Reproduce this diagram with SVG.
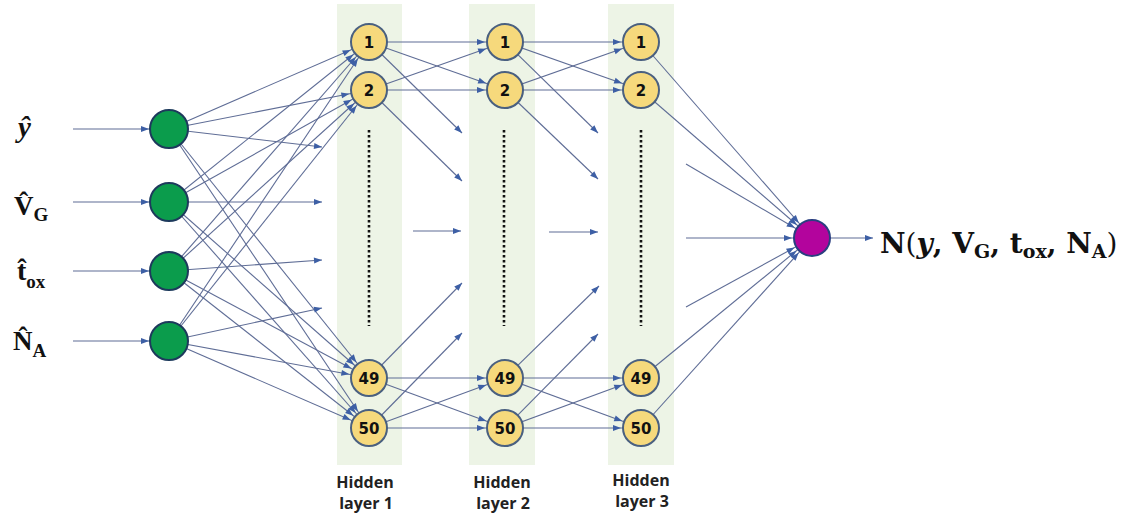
<svg xmlns="http://www.w3.org/2000/svg" width="1129" height="520" viewBox="0 0 1129 520">
  <style>
    .band { fill: #edf4e6; }
    .ln { stroke: #5f6d96; stroke-width: 1.1; fill: none; }
    .node-in { fill: #0b9c4c; stroke: #1d3a5c; stroke-width: 2; }
    .node-h { fill: #f6d97c; stroke: #4a6080; stroke-width: 2; }
    .node-out { fill: #b3049d; stroke: #2a3f80; stroke-width: 2; }
    .num { font-family: "DejaVu Sans", sans-serif; font-weight: bold; font-size: 15px; fill: #111; text-anchor: middle; }
    .dots { stroke: #111; stroke-width: 2.6; stroke-dasharray: 2.6 2.4; fill: none; }
    .math { font-family: "Liberation Serif", serif; font-weight: bold; fill: #111; }
    .math-out { font-family: "DejaVu Serif", serif; font-weight: bold; fill: #111; }
    .cap { font-family: "Open Sans", sans-serif; font-weight: 700; font-size: 16px; fill: #222; text-anchor: middle; }
  </style>
  <defs>
    <!-- arrowhead stopping at a node's rim (line drawn to node centre) -->
    <marker id="ah" markerUnits="userSpaceOnUse" markerWidth="8" markerHeight="6" viewBox="0 0 8 6" refX="28" refY="3" orient="auto" overflow="visible">
      <path d="M0,0 L8,3 L0,6 z" fill="#3d5fa5"/>
    </marker>
    <!-- arrowhead at the line end -->
    <marker id="at" markerUnits="userSpaceOnUse" markerWidth="8" markerHeight="6" viewBox="0 0 8 6" refX="8" refY="3" orient="auto" overflow="visible">
      <path d="M0,0 L8,3 L0,6 z" fill="#3d5fa5"/>
    </marker>
  </defs>

  <!-- layer bands -->
  <g id="bands">
    <rect class="band" x="337" y="4" width="65" height="461"/>
    <rect class="band" x="469" y="4" width="66" height="461"/>
    <rect class="band" x="608" y="4" width="66" height="461"/>
  </g>

  <g id="connectors">
    <!-- inputs -->
    <line class="ln" x1="73" y1="129" x2="169" y2="129" marker-end="url(#ah)"/>
    <line class="ln" x1="73" y1="202" x2="169" y2="202" marker-end="url(#ah)"/>
    <line class="ln" x1="73" y1="271" x2="169" y2="271" marker-end="url(#ah)"/>
    <line class="ln" x1="73" y1="341" x2="169" y2="341" marker-end="url(#ah)"/>

    <!-- input layer to hidden layer 1 -->
    <line class="ln" x1="169" y1="129" x2="369" y2="42" marker-end="url(#ah)"/>
    <line class="ln" x1="169" y1="129" x2="369" y2="90" marker-end="url(#ah)"/>
    <line class="ln" x1="169" y1="129" x2="369" y2="378" marker-end="url(#ah)"/>
    <line class="ln" x1="169" y1="129" x2="369" y2="428" marker-end="url(#ah)"/>
    <line class="ln" x1="169" y1="202" x2="369" y2="42" marker-end="url(#ah)"/>
    <line class="ln" x1="169" y1="202" x2="369" y2="90" marker-end="url(#ah)"/>
    <line class="ln" x1="169" y1="202" x2="369" y2="378" marker-end="url(#ah)"/>
    <line class="ln" x1="169" y1="202" x2="369" y2="428" marker-end="url(#ah)"/>
    <line class="ln" x1="169" y1="271" x2="369" y2="42" marker-end="url(#ah)"/>
    <line class="ln" x1="169" y1="271" x2="369" y2="90" marker-end="url(#ah)"/>
    <line class="ln" x1="169" y1="271" x2="369" y2="378" marker-end="url(#ah)"/>
    <line class="ln" x1="169" y1="271" x2="369" y2="428" marker-end="url(#ah)"/>
    <line class="ln" x1="169" y1="341" x2="369" y2="42" marker-end="url(#ah)"/>
    <line class="ln" x1="169" y1="341" x2="369" y2="90" marker-end="url(#ah)"/>
    <line class="ln" x1="169" y1="341" x2="369" y2="378" marker-end="url(#ah)"/>
    <line class="ln" x1="169" y1="341" x2="369" y2="428" marker-end="url(#ah)"/>
    <line class="ln" x1="169" y1="129" x2="322" y2="147" marker-end="url(#at)"/>
    <line class="ln" x1="169" y1="202" x2="322" y2="202" marker-end="url(#at)"/>
    <line class="ln" x1="169" y1="271" x2="322" y2="260" marker-end="url(#at)"/>
    <line class="ln" x1="169" y1="341" x2="322" y2="308" marker-end="url(#at)"/>

    <!-- hidden layer 1 to hidden layer 2 -->
    <line class="ln" x1="369" y1="42" x2="505" y2="42" marker-end="url(#ah)"/>
    <line class="ln" x1="369" y1="42" x2="505" y2="90" marker-end="url(#ah)"/>
    <line class="ln" x1="369" y1="90" x2="505" y2="42" marker-end="url(#ah)"/>
    <line class="ln" x1="369" y1="90" x2="505" y2="90" marker-end="url(#ah)"/>
    <line class="ln" x1="369" y1="378" x2="505" y2="378" marker-end="url(#ah)"/>
    <line class="ln" x1="369" y1="378" x2="505" y2="428" marker-end="url(#ah)"/>
    <line class="ln" x1="369" y1="428" x2="505" y2="378" marker-end="url(#ah)"/>
    <line class="ln" x1="369" y1="428" x2="505" y2="428" marker-end="url(#ah)"/>
    <line class="ln" x1="369" y1="42" x2="462" y2="133" marker-end="url(#at)"/>
    <line class="ln" x1="369" y1="90" x2="462" y2="181" marker-end="url(#at)"/>
    <line class="ln" x1="413" y1="231" x2="461" y2="231" marker-end="url(#at)"/>
    <line class="ln" x1="369" y1="378" x2="462" y2="283" marker-end="url(#at)"/>
    <line class="ln" x1="369" y1="428" x2="462" y2="333" marker-end="url(#at)"/>

    <!-- hidden layer 2 to hidden layer 3 -->
    <line class="ln" x1="505" y1="42" x2="641" y2="42" marker-end="url(#ah)"/>
    <line class="ln" x1="505" y1="42" x2="641" y2="90" marker-end="url(#ah)"/>
    <line class="ln" x1="505" y1="90" x2="641" y2="42" marker-end="url(#ah)"/>
    <line class="ln" x1="505" y1="90" x2="641" y2="90" marker-end="url(#ah)"/>
    <line class="ln" x1="505" y1="378" x2="641" y2="378" marker-end="url(#ah)"/>
    <line class="ln" x1="505" y1="378" x2="641" y2="428" marker-end="url(#ah)"/>
    <line class="ln" x1="505" y1="428" x2="641" y2="378" marker-end="url(#ah)"/>
    <line class="ln" x1="505" y1="428" x2="641" y2="428" marker-end="url(#ah)"/>
    <line class="ln" x1="505" y1="42" x2="598" y2="133" marker-end="url(#at)"/>
    <line class="ln" x1="505" y1="90" x2="598" y2="179" marker-end="url(#at)"/>
    <line class="ln" x1="549" y1="232" x2="598" y2="232" marker-end="url(#at)"/>
    <line class="ln" x1="505" y1="378" x2="599" y2="286" marker-end="url(#at)"/>
    <line class="ln" x1="505" y1="428" x2="598" y2="334" marker-end="url(#at)"/>

    <!-- hidden layer 3 to output -->
    <line class="ln" x1="641" y1="42" x2="812" y2="238" marker-end="url(#ah)"/>
    <line class="ln" x1="641" y1="90" x2="812" y2="238" marker-end="url(#ah)"/>
    <line class="ln" x1="686" y1="164" x2="812" y2="238" marker-end="url(#ah)"/>
    <line class="ln" x1="686" y1="238" x2="812" y2="238" marker-end="url(#ah)"/>
    <line class="ln" x1="686" y1="307" x2="812" y2="238" marker-end="url(#ah)"/>
    <line class="ln" x1="641" y1="378" x2="812" y2="238" marker-end="url(#ah)"/>
    <line class="ln" x1="641" y1="428" x2="812" y2="238" marker-end="url(#ah)"/>
    <line class="ln" x1="812" y1="238" x2="873" y2="238" marker-end="url(#at)"/>
  </g>

  <!-- ellipsis dots in each hidden layer -->
  <g id="ellipses">
    <line class="dots" x1="369" y1="130" x2="369" y2="326"/>
    <line class="dots" x1="504" y1="130" x2="504" y2="326"/>
    <line class="dots" x1="641" y1="130" x2="641" y2="326"/>
  </g>

  <!-- input nodes -->
  <g id="in-y"><circle class="node-in" cx="169" cy="129" r="19"/></g>
  <g id="in-vg"><circle class="node-in" cx="169" cy="202" r="19"/></g>
  <g id="in-tox"><circle class="node-in" cx="169" cy="271" r="19"/></g>
  <g id="in-na"><circle class="node-in" cx="169" cy="341" r="19"/></g>

  <!-- hidden layer 1 -->
  <g id="h1-1"><circle class="node-h" cx="369" cy="42" r="18"/><text class="num" x="369" y="47.5">1</text></g>
  <g id="h1-2"><circle class="node-h" cx="369" cy="90" r="18"/><text class="num" x="369" y="95.5">2</text></g>
  <g id="h1-49"><circle class="node-h" cx="369" cy="378" r="18"/><text class="num" x="369" y="383.5">49</text></g>
  <g id="h1-50"><circle class="node-h" cx="369" cy="428" r="18"/><text class="num" x="369" y="433.5">50</text></g>

  <!-- hidden layer 2 -->
  <g id="h2-1"><circle class="node-h" cx="505" cy="42" r="18"/><text class="num" x="505" y="47.5">1</text></g>
  <g id="h2-2"><circle class="node-h" cx="505" cy="90" r="18"/><text class="num" x="505" y="95.5">2</text></g>
  <g id="h2-49"><circle class="node-h" cx="505" cy="378" r="18"/><text class="num" x="505" y="383.5">49</text></g>
  <g id="h2-50"><circle class="node-h" cx="505" cy="428" r="18"/><text class="num" x="505" y="433.5">50</text></g>

  <!-- hidden layer 3 -->
  <g id="h3-1"><circle class="node-h" cx="641" cy="42" r="18"/><text class="num" x="641" y="47.5">1</text></g>
  <g id="h3-2"><circle class="node-h" cx="641" cy="90" r="18"/><text class="num" x="641" y="95.5">2</text></g>
  <g id="h3-49"><circle class="node-h" cx="641" cy="378" r="18"/><text class="num" x="641" y="383.5">49</text></g>
  <g id="h3-50"><circle class="node-h" cx="641" cy="428" r="18"/><text class="num" x="641" y="433.5">50</text></g>

  <!-- output node -->
  <g id="out"><circle class="node-out" cx="812" cy="238" r="18"/></g>

  <!-- input labels -->
  <g id="labels-in">
    <text class="math" x="18" y="137" font-size="29" font-style="italic">ŷ</text>
    <text class="math" x="14" y="215" font-size="27">V̂<tspan font-size="19" dy="6">G</tspan></text>
    <text class="math" x="17" y="280" font-size="28">t̂<tspan font-size="19" dy="8">ox</tspan></text>
    <text class="math" x="13" y="350" font-size="27">N̂<tspan font-size="19" dy="7">A</tspan></text>
  </g>

  <!-- output label -->
  <g id="label-out">
    <text class="math-out" x="880" y="253" font-size="28">N<tspan font-weight="normal">(</tspan><tspan font-style="italic">y</tspan>, V<tspan font-size="19" dy="5">G</tspan><tspan dy="-5">, t</tspan><tspan font-size="19" dy="5">ox</tspan><tspan dy="-5">, N</tspan><tspan font-size="19" dy="5">A</tspan><tspan dy="-5" font-weight="normal">)</tspan></text>
  </g>

  <!-- layer captions -->
  <g id="captions">
    <text class="cap" x="365" y="488">Hidden</text>
    <text class="cap" x="366" y="509">layer 1</text>
    <text class="cap" x="502" y="488">Hidden</text>
    <text class="cap" x="503" y="509">layer 2</text>
    <text class="cap" x="641" y="486">Hidden</text>
    <text class="cap" x="642" y="507">layer 3</text>
  </g>
</svg>
